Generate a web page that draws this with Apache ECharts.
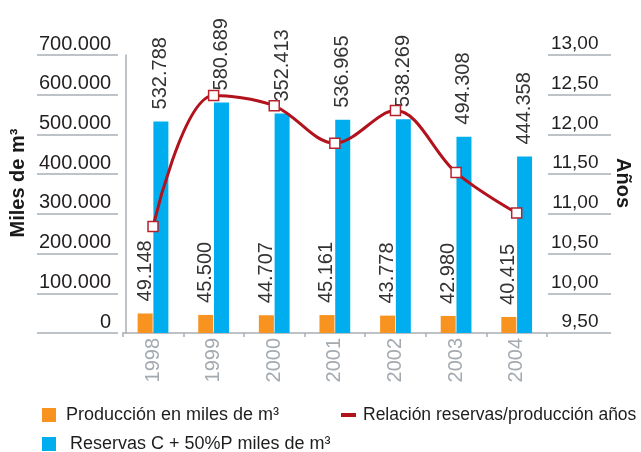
<!DOCTYPE html>
<html>
<head>
<meta charset="utf-8">
<script src="https://cdn.jsdelivr.net/npm/echarts@6/dist/echarts.min.js"></script>
<style>html,body{margin:0;padding:0;background:#fff;}#c{width:641px;height:452px;}</style>
</head>
<body>
<div id="c"></div>
<script>
var years = ['1998','1999','2000','2001','2002','2003','2004'];
var produccion = [49148, 45500, 44707, 45161, 43778, 42980, 40415];
var produccionLabels = ['49.148','45.500','44.707','45.161','43.778','42.980','40.415'];
var reservas = [532788, 580689, 552413, 536965, 538269, 494308, 444358];
var reservasLabels = ['532.788','580.689','352.413','536.965','538.269','494.308','444.358'];
var relacion = [10.84, 12.49, 12.36, 11.89, 12.30, 11.52, 11.01];
var leftTicks = {min: 0, max: 700000, interval: 100000};
var rightTicks = {min: 9.5, max: 13, interval: 0.5};
var nameProd = 'Producción en miles de m³';
var nameRes = 'Reservas C + 50%P miles de m³';
var nameRel = 'Relación reservas/producción años';

var FONT = 'Liberation Sans, Arial, sans-serif';
var chart = echarts.init(document.getElementById('c'), null, {renderer: 'canvas'});

function fmtLeft(v){ return v === 0 ? '0' : (v/1000).toFixed(0) + '.000'; }
function fmtRight(v){ return v.toFixed(2).replace('.', ','); }

var underline = {show: true, lineStyle: {color: '#a9afb4', width: 1.5}};

var option = {
  animation: false,
  backgroundColor: '#fff',
  grid: [
    {left: 122.5, right: 88.5, top: 55, height: 278},
    {left: 37, width: 81, top: 55, height: 278},
    {left: 548, width: 63, top: 55, height: 278}
  ],
  legend: [
    {left: 37, top: 401, itemWidth: 14, itemHeight: 14, selectedMode: false,
     data: [{name: nameProd, icon: 'rect'}],
     textStyle: {fontFamily: FONT, fontSize: 18, color: '#1e1e1e', padding: [0,0,0,5]}},
    {left: 336, top: 401, itemWidth: 15, itemHeight: 4, selectedMode: false,
     data: [{name: nameRel, icon: 'rect', itemStyle: {color: '#b2121c', borderWidth: 0}}],
     textStyle: {fontFamily: FONT, fontSize: 17.5, color: '#1e1e1e', padding: [0,0,0,2]}},
    {left: 37, top: 430, itemWidth: 14, itemHeight: 14, selectedMode: false,
     data: [{name: nameRes, icon: 'rect'}],
     textStyle: {fontFamily: FONT, fontSize: 18, color: '#1e1e1e', padding: [0,0,0,9]}}
  ],
  xAxis: [
    {type: 'category', gridIndex: 0, data: years,
     axisLine: {show: true, lineStyle: {color: '#a9afb4', width: 1.5}},
     axisTick: {show: true, length: 4, interval: 0, lineStyle: {color: '#a9afb4', width: 1.5}},
     axisLabel: {rotate: 90, interval: 0, margin: 5, color: '#a3aab0', fontSize: 20, fontFamily: FONT},
     splitLine: {show: false}},
    {type: 'value', gridIndex: 1, show: false},
    {type: 'value', gridIndex: 2, show: false}
  ],
  yAxis: [
    {type: 'value', gridIndex: 0, position: 'left', offset: -3.5,
     min: leftTicks.min, max: leftTicks.max, interval: leftTicks.interval,
     name: 'Miles de m³', nameLocation: 'middle', nameRotate: 90, nameGap: 95,
     nameTextStyle: {fontFamily: FONT, fontSize: 20, fontWeight: 'bold', color: '#1a1a1a', padding: [0,0,0,22]},
     axisLine: {show: true, lineStyle: {color: '#a9afb4', width: 1.5}},
     axisTick: {show: false}, splitLine: {show: false},
     axisLabel: {formatter: fmtLeft, margin: 15, color: '#231f20', fontSize: 20, fontFamily: FONT,
                 verticalAlign: 'bottom', lineHeight: 20, padding: [0,0,1,0]}},
    {type: 'value', gridIndex: 0, position: 'right',
     min: rightTicks.min, max: rightTicks.max, interval: rightTicks.interval,
     name: 'Años', nameLocation: 'middle', nameRotate: -90, nameGap: 66,
     nameTextStyle: {fontFamily: FONT, fontSize: 20, fontWeight: 'bold', color: '#1a1a1a', padding: [0,22,0,0]},
     axisLine: {show: false}, axisTick: {show: false}, splitLine: {show: false},
     axisLabel: {formatter: fmtRight, margin: 51.5, align: 'right', color: '#231f20', fontSize: 19, fontFamily: FONT,
                 verticalAlign: 'bottom', lineHeight: 20, padding: [0,0,1,0]}},
    {type: 'value', gridIndex: 1, min: leftTicks.min, max: leftTicks.max, interval: leftTicks.interval,
     axisLine: {show: false}, axisTick: {show: false}, axisLabel: {show: false}, splitLine: underline},
    {type: 'value', gridIndex: 2, min: rightTicks.min, max: rightTicks.max, interval: rightTicks.interval,
     axisLine: {show: false}, axisTick: {show: false}, axisLabel: {show: false}, splitLine: underline}
  ],
  series: [
    {name: nameProd, type: 'bar', xAxisIndex: 0, yAxisIndex: 0, data: produccion,
     barWidth: 15, barGap: '5%', itemStyle: {color: '#f7931e'},
     label: {show: true, position: 'top', distance: 12, rotate: 90, align: 'left', verticalAlign: 'middle',
             color: '#333', fontSize: 20, fontFamily: FONT,
             formatter: function(p){ return produccionLabels[p.dataIndex]; }}},
    {name: nameRes, type: 'bar', xAxisIndex: 0, yAxisIndex: 0, data: reservas,
     barWidth: 15, barGap: '5%', itemStyle: {color: '#00aeef'},
     label: {show: true, position: 'top', distance: 12, rotate: 90, align: 'left', verticalAlign: 'middle',
             color: '#333', fontSize: 20, fontFamily: FONT,
             formatter: function(p){ return reservasLabels[p.dataIndex]; }}},
    {name: nameRel, type: 'line', xAxisIndex: 0, yAxisIndex: 1, data: relacion,
     smooth: 0.35, symbol: 'rect', symbolSize: 10, z: 5,
     lineStyle: {color: '#b2121c', width: 3},
     itemStyle: {color: '#ffffff', borderColor: '#b8212b', borderWidth: 1.5}}
  ]
};
chart.setOption(option);
</script>
</body>
</html>
